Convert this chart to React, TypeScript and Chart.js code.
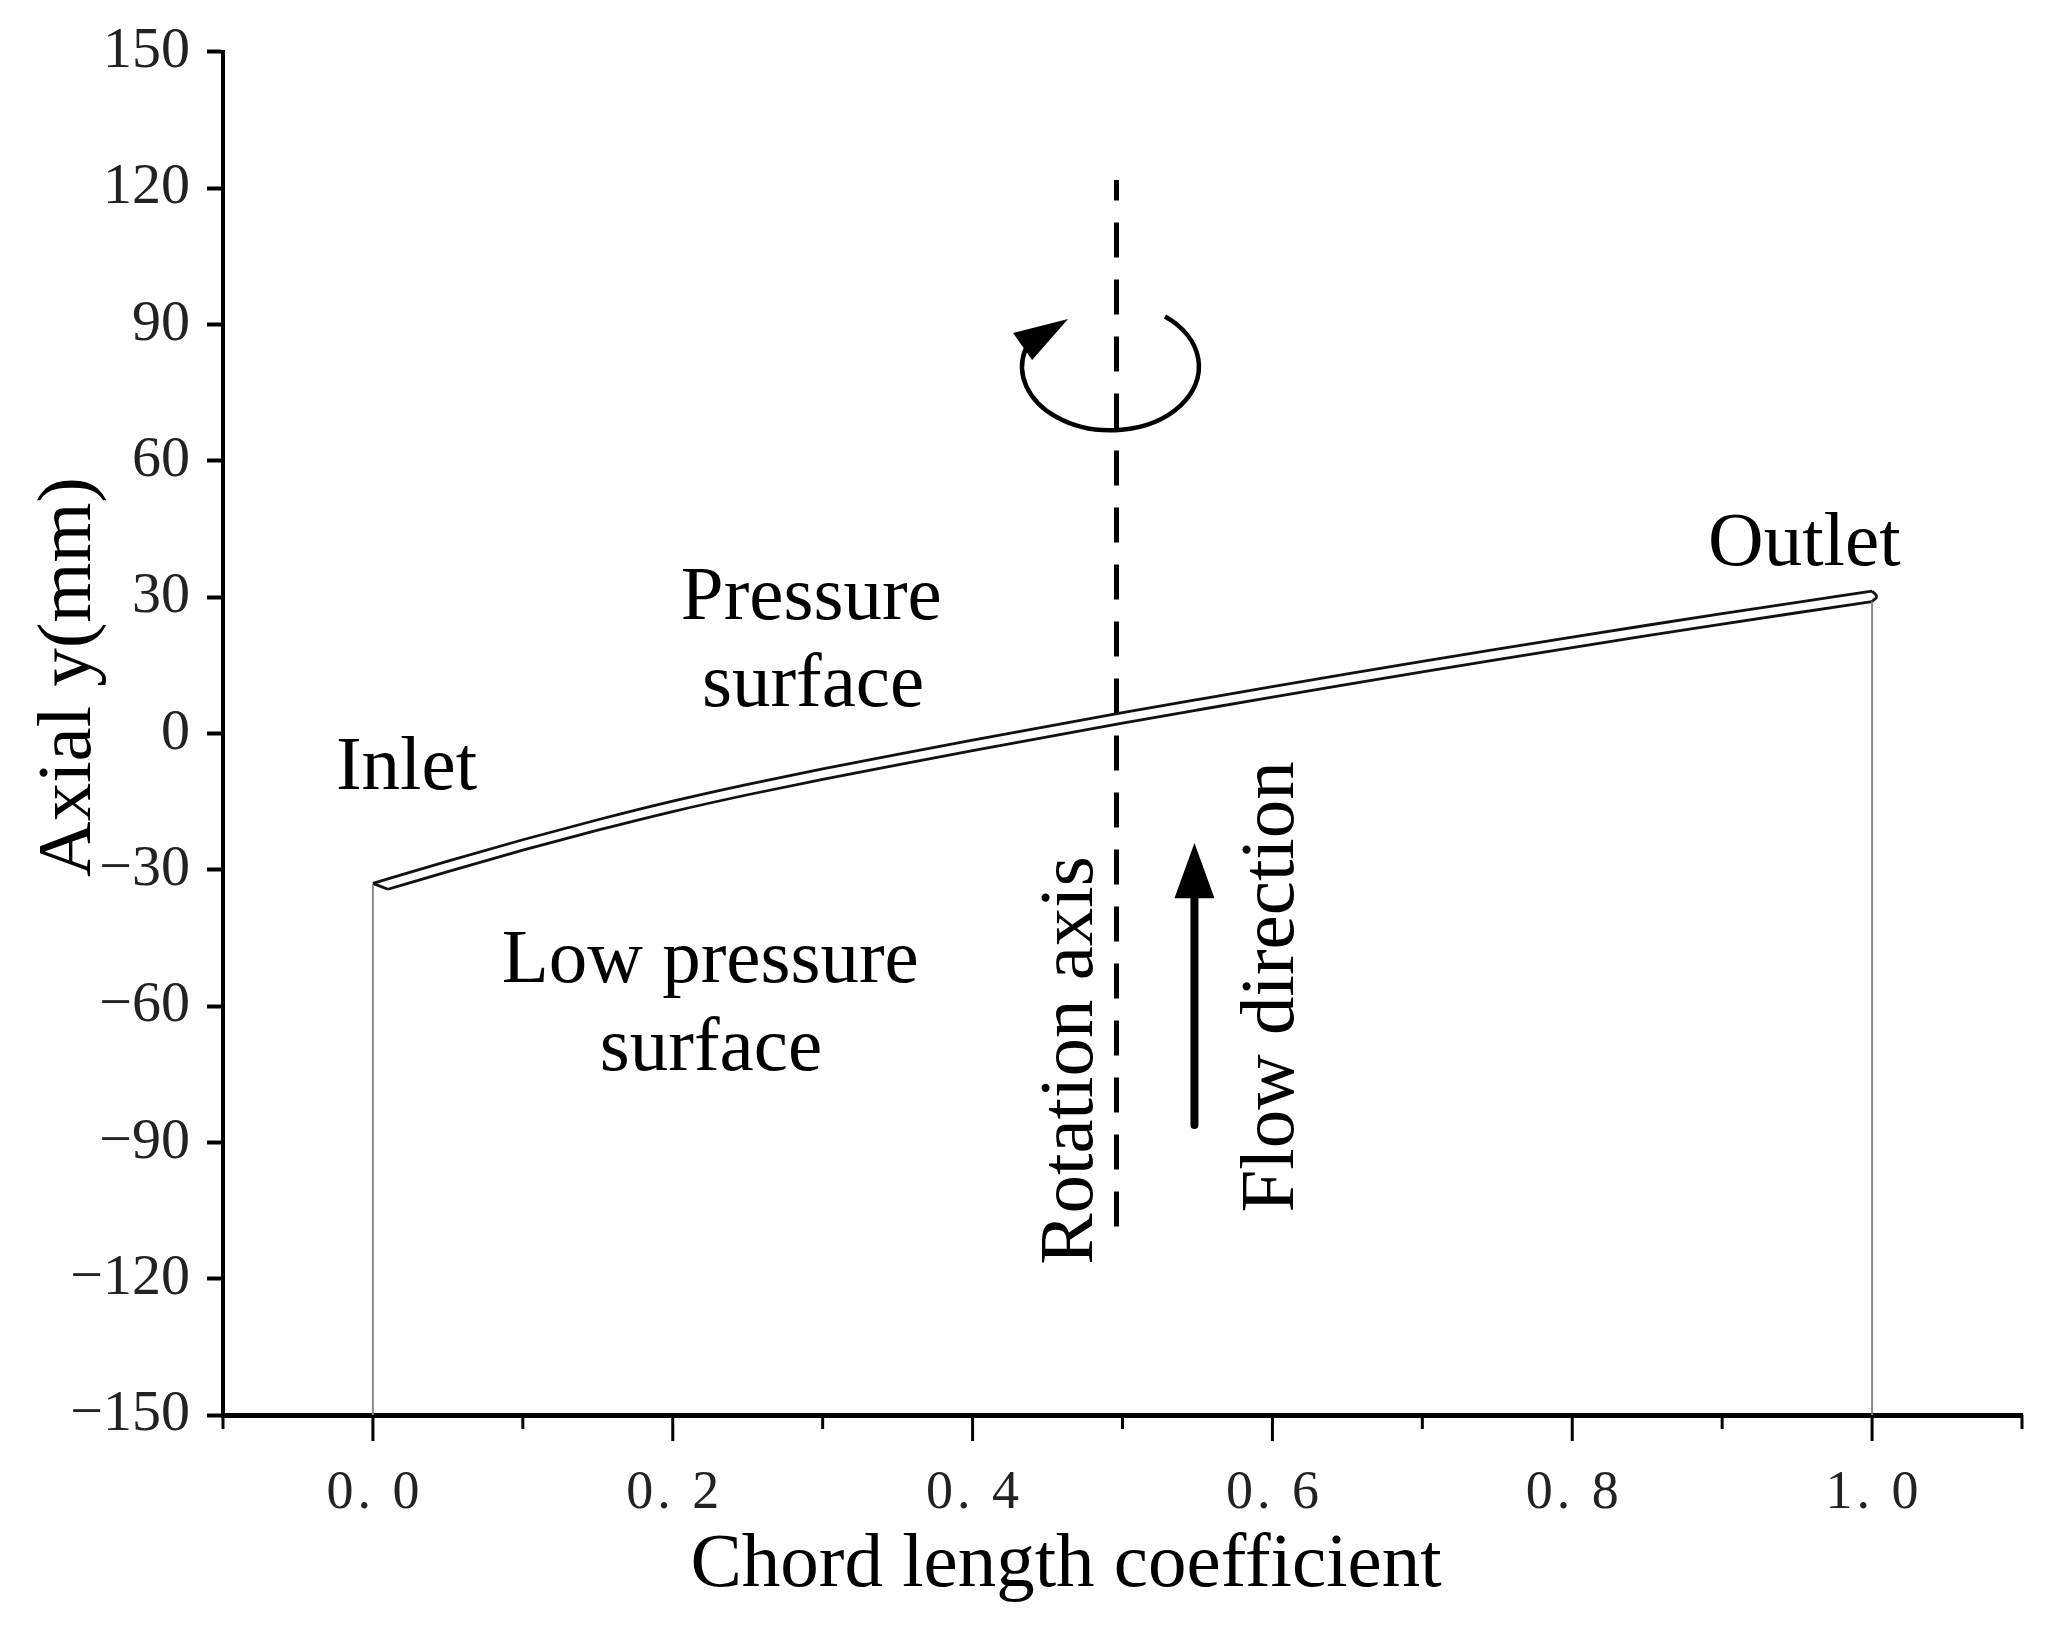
import React, { useEffect, useRef } from "react";
import { Chart, registerables } from "chart.js";

Chart.register(...registerables);

// ---------- data ----------
const xTickValues = [-0.1, 0, 0.1, 0.2, 0.3, 0.4, 0.5, 0.6, 0.7, 0.8, 0.9, 1.0, 1.1];
const xLabelValues = [0, 0.2, 0.4, 0.6, 0.8, 1.0];
const xTickLabels = ["0. 0", "0. 2", "0. 4", "0. 6", "0. 8", "1. 0"];

// pressure surface (upper line of the blade)
const pressureX = [0, 0.05, 0.1, 0.15, 0.2, 0.25, 0.3, 0.35, 0.4, 0.45, 0.5, 0.55, 0.6, 0.65, 0.7, 0.75, 0.8, 0.85, 0.9, 0.95, 1.0];
const pressureY = [-33.0, -28.1, -23.4, -19.0, -14.9, -11.2, -7.8, -4.6, -1.5, 1.55, 4.55, 7.45, 10.3, 13.1, 15.85, 18.55, 21.2, 23.8, 26.35, 28.85, 31.3];

// low pressure surface (lower line of the blade)
const suctionX = [0.01, 0.05, 0.1, 0.15, 0.2, 0.25, 0.3, 0.35, 0.4, 0.45, 0.5, 0.55, 0.6, 0.65, 0.7, 0.75, 0.8, 0.85, 0.9, 0.95, 1.0];
const suctionY = [-34.3, -30.4, -25.7, -21.3, -17.2, -13.5, -10.1, -6.9, -3.8, -0.75, 2.25, 5.15, 8.0, 10.8, 13.55, 16.25, 18.9, 21.5, 24.05, 26.55, 29.0];

const leadingCapX = [0, 0.01];
const leadingCapY = [-33.0, -34.3];
const trailingCapX = [1.0, 1.003, 1.0];
const trailingCapY = [31.3, 30.15, 29.0];

const leadingEdgeLineX = [0, 0];
const leadingEdgeLineY = [-33.3, -150];
const trailingEdgeLineX = [1.0, 1.0];
const trailingEdgeLineY = [29.0, -150];

const rotationAxisX = [0.496, 0.496];
const rotationAxisY = [-108.5, 121.8];

const flowArrowX = [0.548, 0.548];
const flowArrowY = [-86.2, -34.0];
const flowArrowTip = [0.548, -24.1];
const flowArrowHeadBaseY = -36.3;

const rotationCenter = [0.492, 80.7];
const rotationRadii = [0.059, 14.0];
const rotationArcDeg = [-52, 196];
const rotationHeadX = [0.4637, 0.427, 0.4397];
const rotationHeadY = [91.2, 88.1, 82.2];

const labelTexts = ["Pressure", "surface", "Inlet", "Outlet", "Low pressure", "surface"];
const labelX = [0.2924, 0.2936, 0.0224, 0.9548, 0.225, 0.2255];
const labelY = [25.1, 6.1, -12.2, 37.0, -54.7, -74.1];

const verticalTexts = ["Rotation axis", "Flow direction"];
const verticalTextX = [0.4798, 0.6139];
const verticalTextY = [-72.0, -55.8];

const xTitle = "Chord length coefficient";
const yTitle = "Axial y(mm)";

const toPoints = (xs: number[], ys: number[]) => xs.map((x, i) => ({ x, y: ys[i] }));

const SERIF = '"Liberation Serif", "Times New Roman", serif';

const annotationPlugin = {
  id: "annotations",
  afterDraw(chart: any) {
    const { ctx, chartArea } = chart;
    const xs = chart.scales.x;
    const ys = chart.scales.y;
    const px = (v: number) => xs.getPixelForValue(v);
    const py = (v: number) => ys.getPixelForValue(v);
    ctx.save();

    // x-axis tick marks (long at labelled values, short in between)
    ctx.strokeStyle = "#000";
    ctx.lineWidth = 3;
    const axisY = chartArea.bottom;
    xTickValues.forEach((v) => {
      const major = xLabelValues.some((m) => Math.abs(m - v) < 1e-9);
      const X = px(v);
      ctx.beginPath();
      ctx.moveTo(X, axisY);
      ctx.lineTo(X, axisY + (major ? 26 : 14));
      ctx.stroke();
    });

    // x tick labels
    ctx.fillStyle = "#222";
    ctx.font = `54px ${SERIF}`;
    ctx.textAlign = "center";
    ctx.textBaseline = "alphabetic";
    try {
      (ctx as any).letterSpacing = "4px";
    } catch (e) {}
    xLabelValues.forEach((v, i) => {
      ctx.fillText(xTickLabels[i], px(v) + 2, axisY + 93);
    });
    try {
      (ctx as any).letterSpacing = "0px";
    } catch (e) {}

    // axis titles
    ctx.fillStyle = "#000";
    ctx.font = `77px ${SERIF}`;
    ctx.fillText(xTitle, 1066, 1586);
    ctx.save();
    ctx.translate(90, 677);
    ctx.rotate(-Math.PI / 2);
    ctx.fillText(yTitle, 0, 0);
    ctx.restore();

    // annotation labels
    ctx.font = `77px ${SERIF}`;
    labelTexts.forEach((t, i) => {
      ctx.fillText(t, px(labelX[i]), py(labelY[i]));
    });
    verticalTexts.forEach((t, i) => {
      ctx.save();
      ctx.translate(px(verticalTextX[i]), py(verticalTextY[i]));
      ctx.rotate(-Math.PI / 2);
      ctx.fillText(t, 0, 0);
      ctx.restore();
    });

    // flow arrow head
    const tipX = px(flowArrowTip[0]);
    const tipY = py(flowArrowTip[1]);
    const baseY = py(flowArrowHeadBaseY);
    ctx.beginPath();
    ctx.moveTo(tipX, tipY);
    ctx.lineTo(tipX - 20, baseY);
    ctx.lineTo(tipX + 20, baseY);
    ctx.closePath();
    ctx.fill();

    // rotation arrow
    const cx = px(rotationCenter[0]);
    const cy = py(rotationCenter[1]);
    const rx = Math.abs(px(rotationCenter[0] + rotationRadii[0]) - cx);
    const ry = Math.abs(py(rotationCenter[1] + rotationRadii[1]) - cy);
    ctx.lineWidth = 4.5;
    ctx.strokeStyle = "#000";
    ctx.beginPath();
    ctx.ellipse(cx, cy, rx, ry, 0, (rotationArcDeg[0] * Math.PI) / 180, (rotationArcDeg[1] * Math.PI) / 180, false);
    ctx.stroke();
    ctx.beginPath();
    rotationHeadX.forEach((hx, i) => {
      const X = px(hx);
      const Y = py(rotationHeadY[i]);
      if (i === 0) ctx.moveTo(X, Y);
      else ctx.lineTo(X, Y);
    });
    ctx.closePath();
    ctx.fill();

    ctx.restore();
  },
};

const bladeStyle = {
  showLine: true,
  borderColor: "#111",
  borderWidth: 2.8,
  pointRadius: 0,
};

export default function App() {
  const canvasRef = useRef<HTMLCanvasElement | null>(null);

  useEffect(() => {
    if (!canvasRef.current) return;
    const chart = new Chart(canvasRef.current, {
      type: "scatter",
      data: {
        datasets: [
          {
            data: toPoints(leadingEdgeLineX, leadingEdgeLineY),
            showLine: true,
            borderColor: "#8a8a8a",
            borderWidth: 2,
            pointRadius: 0,
          },
          {
            data: toPoints(trailingEdgeLineX, trailingEdgeLineY),
            showLine: true,
            borderColor: "#8a8a8a",
            borderWidth: 2,
            pointRadius: 0,
          },
          { ...bladeStyle, data: toPoints(pressureX, pressureY), cubicInterpolationMode: "monotone" },
          { ...bladeStyle, data: toPoints(suctionX, suctionY), cubicInterpolationMode: "monotone" },
          { ...bladeStyle, data: toPoints(leadingCapX, leadingCapY) },
          { ...bladeStyle, data: toPoints(trailingCapX, trailingCapY), tension: 0.5 },
          {
            data: toPoints(rotationAxisX, rotationAxisY),
            showLine: true,
            borderColor: "#000",
            borderWidth: 5,
            borderDash: [35, 22],
            pointRadius: 0,
          },
          {
            data: toPoints(flowArrowX, flowArrowY),
            showLine: true,
            borderColor: "#000",
            borderWidth: 8,
            borderCapStyle: "round",
            pointRadius: 0,
          },
        ],
      },
      options: {
        animation: false,
        responsive: false,
        devicePixelRatio: 1,
        layout: { padding: { top: 43, right: 25, left: 0, bottom: 0 } },
        plugins: {
          legend: { display: false },
          tooltip: { enabled: false },
        },
        scales: {
          x: {
            type: "linear",
            min: -0.1,
            max: 1.1,
            grid: { display: false },
            border: { display: true, color: "#000", width: 5 },
            ticks: { display: false },
            afterFit: (s: any) => {
              s.height = 212;
            },
          },
          y: {
            type: "linear",
            min: -150,
            max: 150,
            ticks: {
              stepSize: 30,
              color: "#222",
              padding: 17,
              font: { family: SERIF, size: 58 },
              callback: (v: any) => (Number(v) < 0 ? "\u2212" + Math.abs(Number(v)) : String(v)),
            },
            grid: {
              drawOnChartArea: false,
              drawTicks: true,
              tickLength: 16,
              tickWidth: 4,
              tickColor: "#000",
            },
            border: { display: true, color: "#000", width: 4 },
            afterFit: (s: any) => {
              s.width = 223;
            },
          },
        },
      } as any,
      plugins: [annotationPlugin],
    });
    return () => chart.destroy();
  }, []);

  return (
    <div style={{ position: "fixed", left: 0, top: 0, width: 2047, height: 1627, background: "#fff" }}>
      <canvas ref={canvasRef} width={2047} height={1627} style={{ width: 2047, height: 1627, display: "block" }} />
    </div>
  );
}
